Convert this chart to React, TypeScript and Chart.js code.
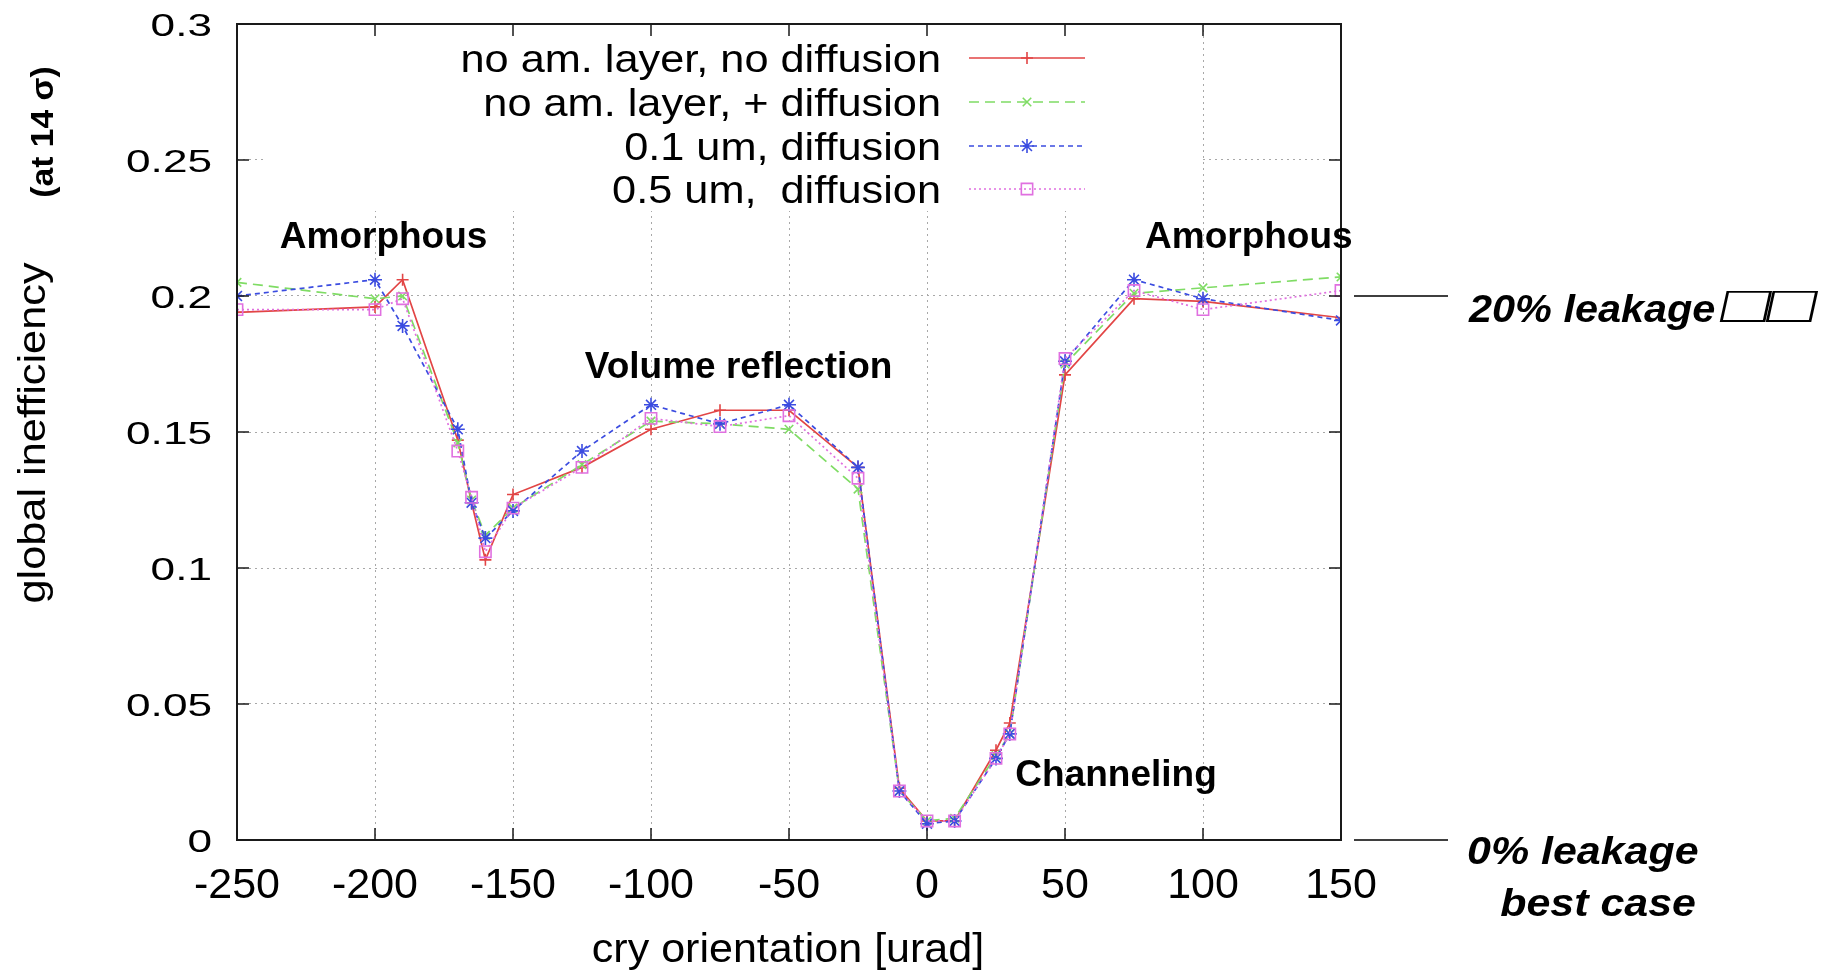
import React, { useEffect, useRef } from 'react';
import { Chart, registerables } from 'chart.js';

Chart.register(...registerables);

// ---------- data ----------
const xValues = [-250, -200, -190, -170, -165, -160, -150, -125, -100, -75, -50, -25, -10, 0, 10, 25, 30, 50, 75, 100, 150];

const noLayerNoDiffusion = [0.194, 0.196, 0.206, 0.147, 0.124, 0.103, 0.127, 0.137, 0.151, 0.158, 0.158, 0.137, 0.019, 0.007, 0.007, 0.033, 0.043, 0.171, 0.199, 0.198, 0.192];
const noLayerPlusDiffusion = [0.205, 0.199, 0.2, 0.146, 0.125, 0.112, 0.122, 0.138, 0.154, 0.153, 0.151, 0.129, 0.018, 0.007, 0.008, 0.031, 0.039, 0.175, 0.201, 0.203, 0.207];
const um01Diffusion = [0.2, 0.206, 0.189, 0.151, 0.124, 0.111, 0.121, 0.143, 0.16, 0.153, 0.16, 0.137, 0.018, 0.006, 0.007, 0.03, 0.039, 0.176, 0.206, 0.199, 0.191];
const um05Diffusion = [0.195, 0.195, 0.199, 0.143, 0.126, 0.106, 0.122, 0.137, 0.155, 0.152, 0.156, 0.133, 0.018, 0.007, 0.007, 0.03, 0.039, 0.177, 0.202, 0.195, 0.202];

const seriesLabels = ['no am. layer, no diffusion', 'no am. layer, + diffusion', '0.1 um, diffusion', '0.5 um,  diffusion'];

const xTickValues = [-250, -200, -150, -100, -50, 0, 50, 100, 150];
const xTickLabels = ['-250', '-200', '-150', '-100', '-50', '0', '50', '100', '150'];
const yTickValues = [0, 0.05, 0.1, 0.15, 0.2, 0.25, 0.3];
const yTickLabels = ['0', '0.05', '0.1', '0.15', '0.2', '0.25', '0.3'];

const xAxisTitle = 'cry orientation [urad]';
const yAxisTitle = 'global inefficiency';
const yAxisTitleExtra = '(at 14 \u03C3)';

const regionLabels = ['Amorphous', 'Volume reflection', 'Channeling', 'Amorphous'];
const regionLabelX = [-234.5, -124, 32, 79];
const regionLabelY = [0.2175, 0.17, 0.02, 0.2175];

const leakageLevels = [0.2, 0];
const leakageTexts = ['20% leakage', '0% leakage'];
const leakageTofu = '\u25A1\u25A1';
const leakageSubText = 'best case';

// ---------- styles ----------
const SANS = "'Liberation Sans', Arial, Helvetica, sans-serif";
const colors = ['#e24545', '#7fdc64', '#3b4ce0', '#e070e0'];
const dashes = [[], [10, 6], [5, 4], [2, 3]];
const pointStyles = ['cross', 'crossRot', 'star', 'rect'];
const pointRadii = [6, 6, 7, 8];

function drawText(ctx: CanvasRenderingContext2D, s: string, x: number, y: number, font: string, align: CanvasTextAlign, sx = 1, rot = 0, skew = 0) {
  ctx.save();
  ctx.translate(x, y);
  if (rot) ctx.rotate(rot);
  if (skew) ctx.transform(1, 0, skew, 1, 0, 0);
  ctx.scale(sx, 1);
  ctx.font = font;
  ctx.textAlign = align;
  ctx.textBaseline = 'alphabetic';
  ctx.fillStyle = '#000';
  ctx.fillText(s, 0, 0);
  ctx.restore();
}

function textWidth(ctx: CanvasRenderingContext2D, s: string, font: string) {
  ctx.save();
  ctx.font = font;
  const w = ctx.measureText(s).width;
  ctx.restore();
  return w;
}

function drawMarker(ctx: CanvasRenderingContext2D, style: string, x: number, y: number, r: number) {
  ctx.beginPath();
  if (style === 'cross' || style === 'star') {
    ctx.moveTo(x - r, y); ctx.lineTo(x + r, y);
    ctx.moveTo(x, y - r); ctx.lineTo(x, y + r);
  }
  if (style === 'crossRot' || style === 'star') {
    const d = r * Math.SQRT1_2;
    ctx.moveTo(x - d, y - d); ctx.lineTo(x + d, y + d);
    ctx.moveTo(x - d, y + d); ctx.lineTo(x + d, y - d);
  }
  if (style === 'rect') {
    const s = r * Math.SQRT1_2;
    ctx.rect(x - s, y - s, 2 * s, 2 * s);
  }
  ctx.stroke();
}

const decorPlugin = {
  id: 'decor',
  beforeDatasetsDraw(chart: any) {
    const ctx = chart.ctx as CanvasRenderingContext2D;
    const a = chart.chartArea;
    // opaque key area
    ctx.save();
    ctx.fillStyle = '#ffffff';
    ctx.fillRect(a.left + 26, a.top + 1, 1200 - (a.left + 26), 210 - a.top);
    ctx.restore();
  },
  afterDraw(chart: any) {
    const ctx = chart.ctx as CanvasRenderingContext2D;
    const a = chart.chartArea;
    const xs = chart.scales.x;
    const ys = chart.scales.y;

    // frame + inward ticks
    ctx.save();
    ctx.strokeStyle = '#1a1a1a';
    ctx.lineWidth = 2;
    ctx.strokeRect(a.left, a.top, a.right - a.left, a.bottom - a.top);
    ctx.lineWidth = 1.5;
    ctx.beginPath();
    xTickValues.forEach((v) => {
      const px = xs.getPixelForValue(v);
      ctx.moveTo(px, a.bottom); ctx.lineTo(px, a.bottom - 12);
      ctx.moveTo(px, a.top); ctx.lineTo(px, a.top + 12);
    });
    yTickValues.forEach((v) => {
      const py = ys.getPixelForValue(v);
      ctx.moveTo(a.left, py); ctx.lineTo(a.left + 12, py);
      ctx.moveTo(a.right, py); ctx.lineTo(a.right - 12, py);
    });
    ctx.stroke();
    ctx.restore();

    // y tick labels (wide glyphs as in the source)
    yTickValues.forEach((v, i) => {
      const py = ys.getPixelForValue(v);
      drawText(ctx, yTickLabels[i], a.left - 25, py + 12, `32px ${SANS}`, 'right', 1.38);
    });

    // legend (text on the left, sample on the right)
    const rowY = [58, 102, 146, 189];
    seriesLabels.forEach((lab, i) => {
      const y = rowY[i];
      drawText(ctx, lab, 941, y + 14, `39px ${SANS}`, 'right', 1.11);
      ctx.save();
      ctx.strokeStyle = colors[i];
      ctx.lineWidth = 1.6;
      ctx.setLineDash(dashes[i]);
      ctx.beginPath();
      ctx.moveTo(969, y); ctx.lineTo(1085, y);
      ctx.stroke();
      ctx.setLineDash([]);
      drawMarker(ctx, pointStyles[i], 1027, y, pointRadii[i]);
      ctx.restore();
    });

    // region labels
    regionLabels.forEach((lab, i) => {
      drawText(ctx, lab, xs.getPixelForValue(regionLabelX[i]), ys.getPixelForValue(regionLabelY[i]), `bold 37px ${SANS}`, 'left', 1.0);
    });

    // axis titles
    drawText(ctx, xAxisTitle, 788, 962, `41px ${SANS}`, 'center', 1.05);
    drawText(ctx, yAxisTitle, 44.5, 433, `38px ${SANS}`, 'center', 1.14, -Math.PI / 2);
    drawText(ctx, yAxisTitleExtra, 53, 132, `bold 32px ${SANS}`, 'center', 1.05, -Math.PI / 2);

    // leakage markers on the right
    ctx.save();
    ctx.strokeStyle = '#000';
    ctx.lineWidth = 1.5;
    ctx.beginPath();
    leakageLevels.forEach((v) => {
      const py = ys.getPixelForValue(v);
      ctx.moveTo(a.right + 13, py); ctx.lineTo(a.right + 107, py);
    });
    ctx.stroke();
    ctx.restore();
    const p20 = ys.getPixelForValue(leakageLevels[0]);
    const p0 = ys.getPixelForValue(leakageLevels[1]);
    const bi = `italic bold 38px ${SANS}`;
    const sx20 = 1.09;
    drawText(ctx, leakageTexts[0], a.right + 128, p20 + 26, bi, 'left', sx20);
    const w20 = textWidth(ctx, leakageTexts[0], bi) * sx20;
    const tofuFont = `bold 52px ${SANS}`;
    const wt = textWidth(ctx, leakageTofu, tofuFont);
    drawText(ctx, leakageTofu, a.right + 128 + w20 + 4, p20 + 26, tofuFont, 'left', wt > 0 ? 92 / wt : 1, 0, -0.22);
    drawText(ctx, leakageTexts[1], a.right + 126, p0 + 24, bi, 'left', 1.13);
    drawText(ctx, leakageSubText, a.right + 355, p0 + 76, bi, 'right', 1.13);
  },
};

export default function App() {
  const ref = useRef<HTMLCanvasElement | null>(null);

  useEffect(() => {
    if (!ref.current) return;
    const series = [noLayerNoDiffusion, noLayerPlusDiffusion, um01Diffusion, um05Diffusion];
    const datasets = series.map((vals, i) => ({
      label: seriesLabels[i],
      data: xValues.map((x, k) => ({ x, y: vals[k] })),
      borderColor: colors[i],
      backgroundColor: 'rgba(0,0,0,0)',
      borderWidth: 1.7,
      borderDash: dashes[i],
      pointStyle: pointStyles[i],
      pointRadius: pointRadii[i],
      pointBorderColor: colors[i],
      pointBackgroundColor: 'rgba(0,0,0,0)',
      pointBorderWidth: 1.6,
      tension: 0,
      fill: false,
      order: 4 - i,
    }));

    const zeroPad = (s: any) => {
      s.paddingTop = 0; s.paddingBottom = 0; s.paddingLeft = 0; s.paddingRight = 0;
    };

    const chart = new Chart(ref.current, {
      type: 'line',
      data: { datasets },
      options: {
        animation: false,
        responsive: false,
        devicePixelRatio: 1,
        layout: { padding: { top: 24, right: 489, left: 0, bottom: 0 } },
        plugins: { legend: { display: false }, tooltip: { enabled: false }, title: { display: false } },
        scales: {
          x: {
            type: 'linear',
            min: -250,
            max: 150,
            afterBuildTicks: (s: any) => { s.ticks = xTickValues.map((v) => ({ value: v })); },
            afterFit: (s: any) => { s.height = 133; zeroPad(s); },
            ticks: {
              autoSkip: false,
              maxRotation: 0,
              padding: 20,
              color: '#000',
              font: { family: SANS, size: 43 },
              callback: (v: any) => { const i = xTickValues.indexOf(Number(v)); return i >= 0 ? xTickLabels[i] : ''; },
            },
            grid: { color: '#a8a8a8', lineWidth: 1, drawTicks: false },
            border: { display: false, dash: [2, 4] },
          },
          y: {
            type: 'linear',
            min: 0,
            max: 0.3,
            afterBuildTicks: (s: any) => { s.ticks = yTickValues.map((v) => ({ value: v })); },
            afterFit: (s: any) => { s.width = 237; zeroPad(s); },
            ticks: { display: false, autoSkip: false, padding: 0 },
            grid: { color: '#a8a8a8', lineWidth: 1, drawTicks: false },
            border: { display: false, dash: [2, 4] },
          },
        },
      },
      plugins: [decorPlugin],
    } as any);

    return () => chart.destroy();
  }, []);

  return (
    <div style={{ position: 'absolute', left: 0, top: 0, width: 1830, height: 973, background: '#fff' }}>
      <canvas ref={ref} width={1830} height={973} style={{ width: 1830, height: 973, display: 'block' }} />
    </div>
  );
}
